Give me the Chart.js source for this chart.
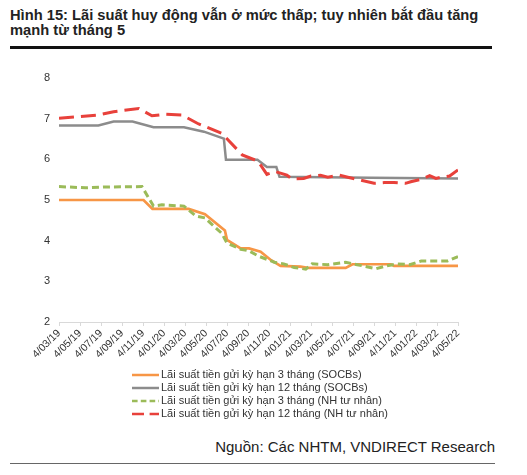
<!DOCTYPE html>
<html>
<head>
<meta charset="utf-8">
<script src="https://cdn.jsdelivr.net/npm/chart.js@4.4.1/dist/chart.umd.min.js"></script>
<style>
  html, body { margin: 0; padding: 0; background: #fff; }
  body { width: 527px; height: 475px; position: relative; overflow: hidden; font-family: "Liberation Sans", Arial, sans-serif; }
  #title { position: absolute; left: 10px; top: 8px; width: 495px; font-weight: bold; font-size: 14.7px; line-height: 15px; color: #222; }
  #rule1 { position: absolute; left: 10px; top: 46px; width: 482px; height: 2.5px; background: #111; }
  #wrap { position: absolute; left: 0; top: 55px; width: 527px; height: 315px; }
  #legend { position: absolute; left: 132px; top: 368px; font-size: 11px; color: #333; line-height: 13px; }
  .lg { display: flex; align-items: center; white-space: nowrap; }
  .lg svg { margin-right: 2px; }
  #source { position: absolute; right: 32px; top: 438px; font-size: 15px; color: #222; }
  #rule2 { position: absolute; left: 10px; top: 463px; width: 485px; height: 1px; background: #666; }
</style>
</head>
<body>
<div id="title">Hình 15: Lãi suất huy động vẫn ở mức thấp; tuy nhiên bắt đầu tăng mạnh từ tháng 5</div>
<div id="rule1"></div>
<div id="wrap"><canvas id="c"></canvas></div>
<div id="legend"></div>
<div id="source">Nguồn: Các NHTM, VNDIRECT Research</div>
<div id="rule2"></div>
<script>
// X tick labels (every 2 months starting 4/03/2019)
const xLabels = ['4/03/19','4/05/19','4/07/19','4/09/19','4/11/19','4/01/20','4/03/20','4/05/20','4/07/20','4/09/20','4/11/20','4/01/21','4/03/21','4/05/21','4/07/21','4/09/21','4/11/21','4/01/22','4/03/22','4/05/22'];

const seriesNames = [
  'Lãi suất tiền gửi kỳ hạn 3 tháng  (SOCBs)',
  'Lãi suất tiền gửi kỳ hạn 12 tháng  (SOCBs)',
  'Lãi suất tiền gửi kỳ hạn 3 tháng  (NH tư nhân)',
  'Lãi suất tiền gửi kỳ hạn 12 tháng  (NH tư nhân)'
];

// months since 4/03/2019 and values (%)
const soc3Months = [0, 8.05, 8.9, 12.35, 13.9, 15.8, 16.0, 17.3, 18.1, 19.2, 20.2, 21.1, 23.0, 23.7, 27.3, 27.95, 31.6, 31.9, 38];
const soc3Values = [5.0, 5.0, 4.78, 4.78, 4.65, 4.25, 4.02, 3.81, 3.81, 3.73, 3.52, 3.38, 3.36, 3.33, 3.33, 3.42, 3.42, 3.38, 3.38];

const soc12Months = [0, 3.75, 5.2, 7.0, 9.0, 11.9, 13.8, 15.7, 15.9, 18.9, 19.8, 20.7, 21.0, 29.7, 38];
const soc12Values = [6.83, 6.83, 6.93, 6.93, 6.79, 6.79, 6.68, 6.51, 5.99, 5.99, 5.81, 5.81, 5.57, 5.55, 5.53];

const pri3Months = [0, 2.5, 4.4, 7.9, 9.0, 9.8, 11.9, 13.0, 13.9, 15.5, 16.0, 17.3, 18.1, 19.0, 20.5, 21.4, 22.4, 23.5, 24.1, 25.6, 27.3, 28.4, 30.2, 31.0, 32.2, 33.4, 34.5, 37.0, 38];
const pri3Values = [5.33, 5.30, 5.32, 5.33, 4.85, 4.88, 4.85, 4.61, 4.56, 4.18, 3.94, 3.79, 3.75, 3.62, 3.47, 3.43, 3.34, 3.30, 3.43, 3.41, 3.47, 3.41, 3.31, 3.37, 3.43, 3.41, 3.50, 3.50, 3.61];

const pri12Months = [0, 3.75, 5.2, 7.6, 8.85, 10.1, 11.7, 13.3, 15.5, 17.45, 18.7, 19.0, 19.8, 20.6, 21.7, 22.2, 23.3, 24.0, 24.9, 25.6, 26.7, 27.5, 28.7, 30.0, 31.0, 31.9, 33.0, 33.5, 34.5, 35.3, 35.9, 36.4, 37.2, 38];
const pri12Values = [7.01, 7.09, 7.17, 7.25, 7.07, 7.11, 7.09, 6.87, 6.64, 6.11, 5.98, 5.94, 5.63, 5.70, 5.61, 5.52, 5.53, 5.59, 5.61, 5.56, 5.61, 5.56, 5.49, 5.41, 5.43, 5.43, 5.41, 5.45, 5.51, 5.60, 5.53, 5.56, 5.59, 5.74];

const yTicks = [2, 3, 4, 5, 6, 7, 8];

function pts(ms, vs) { return ms.map((m, i) => ({ x: m, y: vs[i] })); }

const styles = [
  { color: '#F79646', dash: [], width: 2.7 },
  { color: '#8C8C8C', dash: [], width: 2.5 },
  { color: '#9BBB59', dash: [7, 4], width: 3 },
  { color: '#E8413B', dash: [15, 7], width: 3 }
];
const seriesData = [pts(soc3Months, soc3Values), pts(soc12Months, soc12Values), pts(pri3Months, pri3Values), pts(pri12Months, pri12Values)];

const datasets = seriesNames.map((n, i) => ({
  label: n,
  data: seriesData[i],
  borderColor: styles[i].color,
  backgroundColor: styles[i].color,
  borderWidth: styles[i].width,
  borderDash: styles[i].dash,
  pointRadius: 0,
  tension: 0,
  fill: false
}));
datasets[2].order = 1; datasets[3].order = 0; datasets[0].order = 3; datasets[1].order = 2;

new Chart(document.getElementById('c'), {
  type: 'line',
  data: { datasets },
  options: {
    responsive: true,
    maintainAspectRatio: false,
    animation: false,
    layout: { padding: { left: 0, right: 69, top: 23, bottom: 0 } },
    plugins: { legend: { display: false }, tooltip: { enabled: false } },
    scales: {
      x: {
        type: 'linear',
        min: 0, max: 38,
        afterFit: s => { s.height = 48; },
        afterBuildTicks: s => { s.ticks = xLabels.map((_, i) => ({ value: i * 2 })); },
        ticks: {
          autoSkip: false,
          maxRotation: 45, minRotation: 45,
          font: { family: 'Liberation Sans, Arial, sans-serif', size: 10.5 },
          color: '#333',
          padding: 1,
          callback: (v) => xLabels[Math.round(v / 2)]
        },
        grid: { display: true, drawOnChartArea: false, drawTicks: true, tickLength: 4, color: '#D9D9D9' },
        border: { display: true, color: '#D9D9D9', width: 1 }
      },
      y: {
        min: 2, max: 8,
        afterFit: s => { s.width = 59; },
        afterBuildTicks: s => { s.ticks = yTicks.map(v => ({ value: v })); },
        ticks: {
          font: { family: 'Liberation Sans, Arial, sans-serif', size: 11 },
          color: '#333',
          padding: 9
        },
        grid: { display: false, drawTicks: false },
        border: { display: false }
      }
    }
  }
});

// HTML legend
const lg = document.getElementById('legend');
seriesNames.forEach((n, i) => {
  const row = document.createElement('div');
  row.className = 'lg';
  const dash = styles[i].dash.length ? styles[i].dash.map(d => d * 0.8).join(',') : 'none';
  row.innerHTML = '<svg width="27" height="6"><line x1="0" y1="3" x2="27" y2="3" stroke="' + styles[i].color + '" stroke-width="2.5" stroke-dasharray="' + dash + '"/></svg><span>' + n + '</span>';
  lg.appendChild(row);
});
</script>
</body>
</html>
